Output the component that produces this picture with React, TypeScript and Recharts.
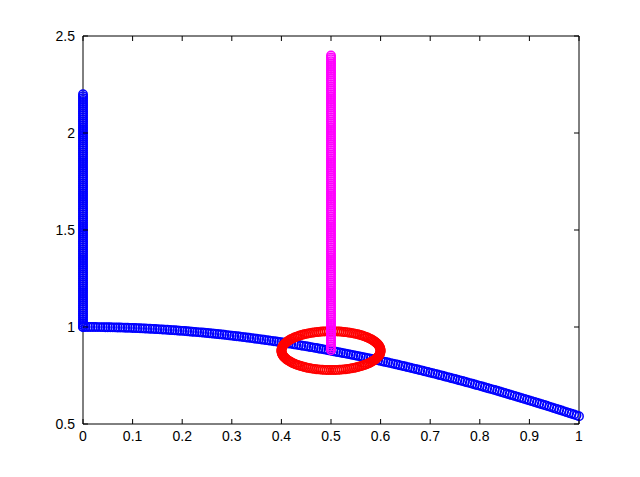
import { ScatterChart, Scatter, XAxis, YAxis } from "recharts";

// blue curve, sampled every 0.005
const curveX = [
  0, 0.005, 0.01, 0.015, 0.02, 0.025, 0.03, 0.035, 0.04, 0.045,
  0.05, 0.055, 0.06, 0.065, 0.07, 0.075, 0.08, 0.085, 0.09, 0.095,
  0.1, 0.105, 0.11, 0.115, 0.12, 0.125, 0.13, 0.135, 0.14, 0.145,
  0.15, 0.155, 0.16, 0.165, 0.17, 0.175, 0.18, 0.185, 0.19, 0.195,
  0.2, 0.205, 0.21, 0.215, 0.22, 0.225, 0.23, 0.235, 0.24, 0.245,
  0.25, 0.255, 0.26, 0.265, 0.27, 0.275, 0.28, 0.285, 0.29, 0.295,
  0.3, 0.305, 0.31, 0.315, 0.32, 0.325, 0.33, 0.335, 0.34, 0.345,
  0.35, 0.355, 0.36, 0.365, 0.37, 0.375, 0.38, 0.385, 0.39, 0.395,
  0.4, 0.405, 0.41, 0.415, 0.42, 0.425, 0.43, 0.435, 0.44, 0.445,
  0.45, 0.455, 0.46, 0.465, 0.47, 0.475, 0.48, 0.485, 0.49, 0.495,
  0.5, 0.505, 0.51, 0.515, 0.52, 0.525, 0.53, 0.535, 0.54, 0.545,
  0.55, 0.555, 0.56, 0.565, 0.57, 0.575, 0.58, 0.585, 0.59, 0.595,
  0.6, 0.605, 0.61, 0.615, 0.62, 0.625, 0.63, 0.635, 0.64, 0.645,
  0.65, 0.655, 0.66, 0.665, 0.67, 0.675, 0.68, 0.685, 0.69, 0.695,
  0.7, 0.705, 0.71, 0.715, 0.72, 0.725, 0.73, 0.735, 0.74, 0.745,
  0.75, 0.755, 0.76, 0.765, 0.77, 0.775, 0.78, 0.785, 0.79, 0.795,
  0.8, 0.805, 0.81, 0.815, 0.82, 0.825, 0.83, 0.835, 0.84, 0.845,
  0.85, 0.855, 0.86, 0.865, 0.87, 0.875, 0.88, 0.885, 0.89, 0.895,
  0.9, 0.905, 0.91, 0.915, 0.92, 0.925, 0.93, 0.935, 0.94, 0.945,
  0.95, 0.955, 0.96, 0.965, 0.97, 0.975, 0.98, 0.985, 0.99, 0.995,
  1,
];
const curveY = [
  1.0, 1.0, 1.0, 0.9999, 0.9998, 0.9997, 0.9996, 0.9994, 0.9992, 0.999,
  0.9988, 0.9985, 0.9982, 0.9979, 0.9976, 0.9972, 0.9968, 0.9964, 0.996, 0.9955,
  0.995, 0.9945, 0.994, 0.9934, 0.9928, 0.9922, 0.9916, 0.9909, 0.9902, 0.9895,
  0.9888, 0.988, 0.9872, 0.9864, 0.9856, 0.9847, 0.9838, 0.9829, 0.982, 0.981,
  0.9801, 0.9791, 0.978, 0.977, 0.9759, 0.9748, 0.9737, 0.9725, 0.9713, 0.9701,
  0.9689, 0.9677, 0.9664, 0.9651, 0.9638, 0.9624, 0.9611, 0.9597, 0.9582, 0.9568,
  0.9553, 0.9538, 0.9523, 0.9508, 0.9492, 0.9476, 0.946, 0.9444, 0.9428, 0.9411,
  0.9394, 0.9376, 0.9359, 0.9341, 0.9323, 0.9305, 0.9287, 0.9268, 0.9249, 0.923,
  0.9211, 0.9191, 0.9171, 0.9151, 0.9131, 0.911, 0.909, 0.9069, 0.9048, 0.9026,
  0.9004, 0.8983, 0.8961, 0.8938, 0.8916, 0.8893, 0.887, 0.8847, 0.8823, 0.88,
  0.8776, 0.8752, 0.8727, 0.8703, 0.8678, 0.8653, 0.8628, 0.8603, 0.8577, 0.8551,
  0.8525, 0.8499, 0.8473, 0.8446, 0.8419, 0.8392, 0.8365, 0.8337, 0.8309, 0.8281,
  0.8253, 0.8225, 0.8196, 0.8168, 0.8139, 0.811, 0.808, 0.8051, 0.8021, 0.7991,
  0.7961, 0.7931, 0.79, 0.7869, 0.7838, 0.7807, 0.7776, 0.7744, 0.7712, 0.768,
  0.7648, 0.7616, 0.7584, 0.7551, 0.7518, 0.7485, 0.7452, 0.7418, 0.7385, 0.7351,
  0.7317, 0.7283, 0.7248, 0.7214, 0.7179, 0.7144, 0.7109, 0.7074, 0.7038, 0.7003,
  0.6967, 0.6931, 0.6895, 0.6859, 0.6822, 0.6786, 0.6749, 0.6712, 0.6675, 0.6637,
  0.66, 0.6562, 0.6524, 0.6486, 0.6448, 0.641, 0.6372, 0.6333, 0.6294, 0.6255,
  0.6216, 0.6177, 0.6137, 0.6098, 0.6058, 0.6018, 0.5978, 0.5938, 0.5898, 0.5857,
  0.5817, 0.5776, 0.5735, 0.5694, 0.5653, 0.5611, 0.557, 0.5529, 0.5487, 0.5445,
  0.5403,
];

// blue column at x = 0
const blueColumnY = [
  1.0, 1.01, 1.02, 1.03, 1.04, 1.05, 1.06, 1.07, 1.08, 1.09,
  1.1, 1.11, 1.12, 1.13, 1.14, 1.15, 1.16, 1.17, 1.18, 1.19,
  1.2, 1.21, 1.22, 1.23, 1.24, 1.25, 1.26, 1.27, 1.28, 1.29,
  1.3, 1.31, 1.32, 1.33, 1.34, 1.35, 1.36, 1.37, 1.38, 1.39,
  1.4, 1.41, 1.42, 1.43, 1.44, 1.45, 1.46, 1.47, 1.48, 1.49,
  1.5, 1.51, 1.52, 1.53, 1.54, 1.55, 1.56, 1.57, 1.58, 1.59,
  1.6, 1.61, 1.62, 1.63, 1.64, 1.65, 1.66, 1.67, 1.68, 1.69,
  1.7, 1.71, 1.72, 1.73, 1.74, 1.75, 1.76, 1.77, 1.78, 1.79,
  1.8, 1.81, 1.82, 1.83, 1.84, 1.85, 1.86, 1.87, 1.88, 1.89,
  1.9, 1.91, 1.92, 1.93, 1.94, 1.95, 1.96, 1.97, 1.98, 1.99,
  2.0, 2.01, 2.02, 2.03, 2.04, 2.05, 2.06, 2.07, 2.08, 2.09,
  2.1, 2.11, 2.12, 2.13, 2.14, 2.15, 2.16, 2.17, 2.18, 2.19,
  2.2,
];

// magenta column at x = 0.5
const magentaColumnY = [
  0.88, 0.89, 0.9, 0.91, 0.92, 0.93, 0.94, 0.95, 0.96, 0.97, 0.98, 0.99,
  1.0, 1.01, 1.02, 1.03, 1.04, 1.05, 1.06, 1.07, 1.08, 1.09,
  1.1, 1.11, 1.12, 1.13, 1.14, 1.15, 1.16, 1.17, 1.18, 1.19,
  1.2, 1.21, 1.22, 1.23, 1.24, 1.25, 1.26, 1.27, 1.28, 1.29,
  1.3, 1.31, 1.32, 1.33, 1.34, 1.35, 1.36, 1.37, 1.38, 1.39,
  1.4, 1.41, 1.42, 1.43, 1.44, 1.45, 1.46, 1.47, 1.48, 1.49,
  1.5, 1.51, 1.52, 1.53, 1.54, 1.55, 1.56, 1.57, 1.58, 1.59,
  1.6, 1.61, 1.62, 1.63, 1.64, 1.65, 1.66, 1.67, 1.68, 1.69,
  1.7, 1.71, 1.72, 1.73, 1.74, 1.75, 1.76, 1.77, 1.78, 1.79,
  1.8, 1.81, 1.82, 1.83, 1.84, 1.85, 1.86, 1.87, 1.88, 1.89,
  1.9, 1.91, 1.92, 1.93, 1.94, 1.95, 1.96, 1.97, 1.98, 1.99,
  2.0, 2.01, 2.02, 2.03, 2.04, 2.05, 2.06, 2.07, 2.08, 2.09,
  2.1, 2.11, 2.12, 2.13, 2.14, 2.15, 2.16, 2.17, 2.18, 2.19,
  2.2, 2.21, 2.22, 2.23, 2.24, 2.25, 2.26, 2.27, 2.28, 2.29,
  2.3, 2.31, 2.32, 2.33, 2.34, 2.35, 2.36, 2.37, 2.38, 2.39,
  2.4,
];

// red ring around (0.5, 0.878), every 2.5 degrees
const ringX = [
  0.6, 0.5999, 0.5996, 0.5991, 0.5985, 0.5976, 0.5966, 0.5954, 0.594, 0.5924,
  0.5906, 0.5887, 0.5866, 0.5843, 0.5819, 0.5793, 0.5766, 0.5737, 0.5707, 0.5676,
  0.5643, 0.5609, 0.5574, 0.5537, 0.55, 0.5462, 0.5423, 0.5383, 0.5342, 0.5301,
  0.5259, 0.5216, 0.5174, 0.5131, 0.5087, 0.5044, 0.5,
  0.4956, 0.4913, 0.4869, 0.4826, 0.4784, 0.4741, 0.4699, 0.4658, 0.4617, 0.4577,
  0.4538, 0.45, 0.4463, 0.4426, 0.4391, 0.4357, 0.4324, 0.4293, 0.4263, 0.4234,
  0.4207, 0.4181, 0.4157, 0.4134, 0.4113, 0.4094, 0.4076, 0.406, 0.4046, 0.4034,
  0.4024, 0.4015, 0.4009, 0.4004, 0.4001, 0.4,
  0.4001, 0.4004, 0.4009, 0.4015, 0.4024, 0.4034, 0.4046, 0.406, 0.4076, 0.4094,
  0.4113, 0.4134, 0.4157, 0.4181, 0.4207, 0.4234, 0.4263, 0.4293, 0.4324, 0.4357,
  0.4391, 0.4426, 0.4463, 0.45, 0.4538, 0.4577, 0.4617, 0.4658, 0.4699, 0.4741,
  0.4784, 0.4826, 0.4869, 0.4913, 0.4956, 0.5,
  0.5044, 0.5087, 0.5131, 0.5174, 0.5216, 0.5259, 0.5301, 0.5342, 0.5383, 0.5423,
  0.5462, 0.55, 0.5537, 0.5574, 0.5609, 0.5643, 0.5676, 0.5707, 0.5737, 0.5766,
  0.5793, 0.5819, 0.5843, 0.5866, 0.5887, 0.5906, 0.5924, 0.594, 0.5954, 0.5966,
  0.5976, 0.5985, 0.5991, 0.5996, 0.5999,
];
const ringY = [
  0.878, 0.8824, 0.8867, 0.8911, 0.8954, 0.8996, 0.9039, 0.9081, 0.9122, 0.9163,
  0.9203, 0.9242, 0.928, 0.9317, 0.9354, 0.9389, 0.9423, 0.9456, 0.9487, 0.9517,
  0.9546, 0.9573, 0.9599, 0.9623, 0.9646, 0.9667, 0.9686, 0.9704, 0.972, 0.9734,
  0.9746, 0.9756, 0.9765, 0.9771, 0.9776, 0.9779, 0.978,
  0.9779, 0.9776, 0.9771, 0.9765, 0.9756, 0.9746, 0.9734, 0.972, 0.9704, 0.9686,
  0.9667, 0.9646, 0.9623, 0.9599, 0.9573, 0.9546, 0.9517, 0.9487, 0.9456, 0.9423,
  0.9389, 0.9354, 0.9317, 0.928, 0.9242, 0.9203, 0.9163, 0.9122, 0.9081, 0.9039,
  0.8996, 0.8954, 0.8911, 0.8867, 0.8824, 0.878,
  0.8736, 0.8693, 0.8649, 0.8606, 0.8564, 0.8521, 0.8479, 0.8438, 0.8397, 0.8357,
  0.8318, 0.828, 0.8243, 0.8206, 0.8171, 0.8137, 0.8104, 0.8073, 0.8043, 0.8014,
  0.7987, 0.7961, 0.7937, 0.7914, 0.7893, 0.7874, 0.7856, 0.784, 0.7826, 0.7814,
  0.7804, 0.7795, 0.7789, 0.7784, 0.7781, 0.778,
  0.7781, 0.7784, 0.7789, 0.7795, 0.7804, 0.7814, 0.7826, 0.784, 0.7856, 0.7874,
  0.7893, 0.7914, 0.7937, 0.7961, 0.7987, 0.8014, 0.8043, 0.8073, 0.8104, 0.8137,
  0.8171, 0.8206, 0.8243, 0.828, 0.8318, 0.8357, 0.8397, 0.8438, 0.8479, 0.8521,
  0.8564, 0.8606, 0.8649, 0.8693, 0.8736,
];

const xTicks = [0, 0.1, 0.2, 0.3, 0.4, 0.5, 0.6, 0.7, 0.8, 0.9, 1];
const yTicks = [0.5, 1, 1.5, 2, 2.5];

const blueData = [
  ...blueColumnY.map((y) => ({ x: 0, y })),
  ...curveX.map((x, i) => ({ x, y: curveY[i] })),
];
const magentaData = magentaColumnY.map((y) => ({ x: 0.5, y }));
const ringData = ringX.map((x, i) => ({ x, y: ringY[i] }));

const FONT = "'Liberation Sans', Arial, Helvetica, sans-serif";
const TICK_LEN = 5;
const MARGIN = 7;

function ring(color: string) {
  return (props: any) => (
    <circle cx={props.cx} cy={props.cy} r={4.2} fill="none" stroke={color} strokeWidth={1.5} />
  );
}

function BottomTick(props: any) {
  const { x, y, payload } = props;
  const axisY = y - MARGIN;
  return (
    <g>
      <line x1={x} y1={axisY} x2={x} y2={axisY - TICK_LEN} stroke="#000" />
      <text x={x} y={y} dy="0.71em" textAnchor="middle" fontSize={14} fontFamily={FONT} fill="#000">
        {String(payload.value)}
      </text>
    </g>
  );
}

function TopTick(props: any) {
  const { x, y } = props;
  const axisY = y + MARGIN;
  return <line x1={x} y1={axisY} x2={x} y2={axisY + TICK_LEN} stroke="#000" />;
}

function LeftTick(props: any) {
  const { x, y, payload } = props;
  const axisX = x + MARGIN;
  return (
    <g>
      <line x1={axisX} y1={y} x2={axisX + TICK_LEN} y2={y} stroke="#000" />
      <text x={x - 1} y={y} dy="0.36em" textAnchor="end" fontSize={14} fontFamily={FONT} fill="#000">
        {String(payload.value)}
      </text>
    </g>
  );
}

function RightTick(props: any) {
  const { x, y } = props;
  const axisX = x - MARGIN;
  return <line x1={axisX} y1={y} x2={axisX - TICK_LEN} y2={y} stroke="#000" />;
}

export default function App() {
  return (
    <div style={{ width: 624, height: 461, background: "#fff" }}>
      <ScatterChart
        width={624}
        height={461}
        margin={{ top: 8, right: 13, bottom: 15, left: 35 }}
      >
        <XAxis
          xAxisId="b"
          type="number"
          dataKey="x"
          orientation="bottom"
          domain={[0, 1]}
          ticks={xTicks}
          interval={0}
          height={30}
          tickSize={0}
          tickMargin={MARGIN}
          tickLine={false}
          axisLine={{ stroke: "#000" }}
          tick={<BottomTick />}
        />
        <XAxis
          xAxisId="t"
          type="number"
          dataKey="x"
          orientation="top"
          domain={[0, 1]}
          ticks={xTicks}
          interval={0}
          height={20}
          tickSize={0}
          tickMargin={MARGIN}
          tickLine={false}
          axisLine={{ stroke: "#000" }}
          tick={<TopTick />}
        />
        <YAxis
          yAxisId="l"
          type="number"
          dataKey="y"
          orientation="left"
          domain={[0.5, 2.5]}
          ticks={yTicks}
          interval={0}
          width={40}
          tickSize={0}
          tickMargin={MARGIN}
          tickLine={false}
          axisLine={{ stroke: "#000" }}
          tick={<LeftTick />}
        />
        <YAxis
          yAxisId="r"
          type="number"
          dataKey="y"
          orientation="right"
          domain={[0.5, 2.5]}
          ticks={yTicks}
          interval={0}
          width={40}
          tickSize={0}
          tickMargin={MARGIN}
          tickLine={false}
          axisLine={{ stroke: "#000" }}
          tick={<RightTick />}
        />
        <Scatter
          xAxisId="b"
          yAxisId="l"
          data={blueData}
          shape={ring("#0000ff")}
          isAnimationActive={false}
        />
        <Scatter
          xAxisId="b"
          yAxisId="l"
          data={ringData}
          shape={ring("#ff0000")}
          isAnimationActive={false}
        />
        <Scatter
          xAxisId="t"
          yAxisId="r"
          data={magentaData}
          shape={ring("#ff00ff")}
          isAnimationActive={false}
        />
      </ScatterChart>
    </div>
  );
}
